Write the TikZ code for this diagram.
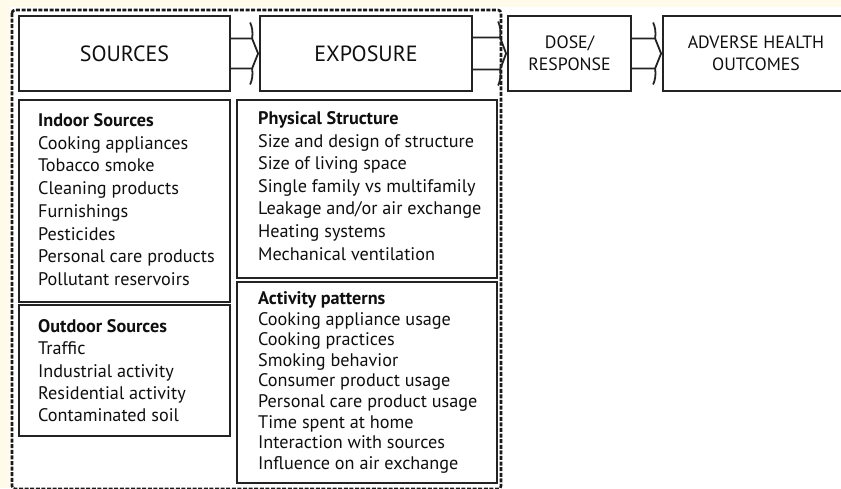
\documentclass[tikz,border=0pt]{standalone}
\usepackage{fontspec}
\setmainfont{PT Sans}
\usetikzlibrary{calc}
\definecolor{cream}{RGB}{255,251,234}
\definecolor{edge}{RGB}{35,35,35}
\definecolor{ink}{RGB}{15,15,15}
\tikzset{
  bigbox/.style={draw=edge, line width=1.8pt, fill=white, inner sep=0pt, text=ink},
  listbox/.style={draw=edge, line width=1.8pt, inner sep=0pt},
  item/.style={anchor=west, inner sep=0pt, text=ink, font=\fontsize{18.2}{21}\selectfont, text height=13pt, text depth=4pt},
  head/.style={item, font=\fontsize{18.2}{21}\selectfont\bfseries},
  conn/.style={draw=edge, line width=1.8pt},
  frame/.style={draw=black!90, line width=2.6pt, dash pattern=on 4pt off 1.6pt, rounded corners=3pt},
}
\newcommand{\linkarrow}[3]{%
  % #1 source node, #2 target node, #3 half gap of lines
  \draw[conn] ([yshift=#3]#1.east) -- ([xshift=-7pt,yshift=#3]#2.west)
     .. controls ([xshift=-6pt,yshift=#3+6pt]#2.west) and ([xshift=-7pt,yshift=#3+12pt]#2.west) .. ([xshift=-9pt,yshift=#3+16pt]#2.west);
  \draw[conn] ([yshift=-#3]#1.east) -- ([xshift=-7pt,yshift=-#3]#2.west)
     .. controls ([xshift=-6pt,yshift=-#3-6pt]#2.west) and ([xshift=-7pt,yshift=-#3-12pt]#2.west) .. ([xshift=-9pt,yshift=-#3-16pt]#2.west);
  \draw[conn, line join=round] ([xshift=-7pt,yshift=#3]#2.west) -- ([xshift=-1pt]#2.west) -- ([xshift=-7pt,yshift=-#3]#2.west);
}
\begin{document}
\begin{tikzpicture}[x=1pt,y=-1pt]
\useasboundingbox (0,0) rectangle (841,488);
\begin{scope}
\clip (0,0) rectangle (841,488);
\fill[cream] (0,0) rectangle (841,488);
\fill[white] (10,7) rectangle (841,488);
\draw[frame] (12,10) rectangle (501,489);

% top row
\node[bigbox, minimum width=211pt, minimum height=75pt, font=\fontsize{22}{24}\selectfont] (src) at (124.5,53.5) {SOURCES};
\node[bigbox, minimum width=212pt, minimum height=75pt, font=\fontsize{22}{24}\selectfont] (exp) at (366,53.5) {EXPOSURE};
\node[bigbox, minimum width=123pt, minimum height=75pt, align=center, font=\fontsize{17.8}{22}\selectfont] (dose) at (569.5,53.5) {DOSE/\\RESPONSE};
\node[bigbox, minimum width=190pt, minimum height=75pt, align=center, font=\fontsize{17.8}{22}\selectfont] (out) at (758,53.5) {\hspace*{-4pt}ADVERSE HEALTH\\\hspace*{-4pt}OUTCOMES};

\linkarrow{src}{exp}{15pt}
\linkarrow{exp}{dose}{16pt}
\linkarrow{dose}{out}{15pt}

% lower boxes
\node[listbox, minimum width=211pt, minimum height=202pt] (indoor) at (124.5,201) {};
\node[listbox, minimum width=211pt, minimum height=131pt] (outdoor) at (124.5,370.5) {};
\node[listbox, minimum width=260pt, minimum height=178pt] (phys) at (367,189) {};
\node[listbox, minimum width=260pt, minimum height=201pt] (act) at (367,382.5) {};

\node[head] (indoorh) at (38,122) {Indoor Sources};
\foreach \t [count=\i] in {Cooking appliances, Tobacco smoke, Cleaning products, Furnishings, Pesticides, Personal care products, Pollutant reservoirs}
  \node[item] (indoor\i) at (38,122+\i*22.7) {\t};

\node[head] (outdoorh) at (38,328) {Outdoor Sources};
\foreach \t [count=\i] in {Traffic, Industrial activity, Residential activity, Contaminated soil}
  \node[item] (outdoor\i) at (38,328+\i*22.3) {\t};

\node[head] (physh) at (258,120) {Physical Structure};
\foreach \t [count=\i] in {Size and design of structure, Size of living space, Single family vs multifamily, Leakage and/or air exchange, Heating systems, Mechanical ventilation}
  \node[item] (phys\i) at (258,120+\i*22.6) {\t};

\node[head] (acth) at (258,300) {Activity patterns};
\foreach \t [count=\i] in {Cooking appliance usage, Cooking practices, Smoking behavior, Consumer product usage, Personal care product usage, Time spent at home, Interaction with sources, Influence on air exchange}
  \node[item] (act\i) at (258,300+\i*20.6) {\t};
\end{scope}
\end{tikzpicture}
\end{document}
